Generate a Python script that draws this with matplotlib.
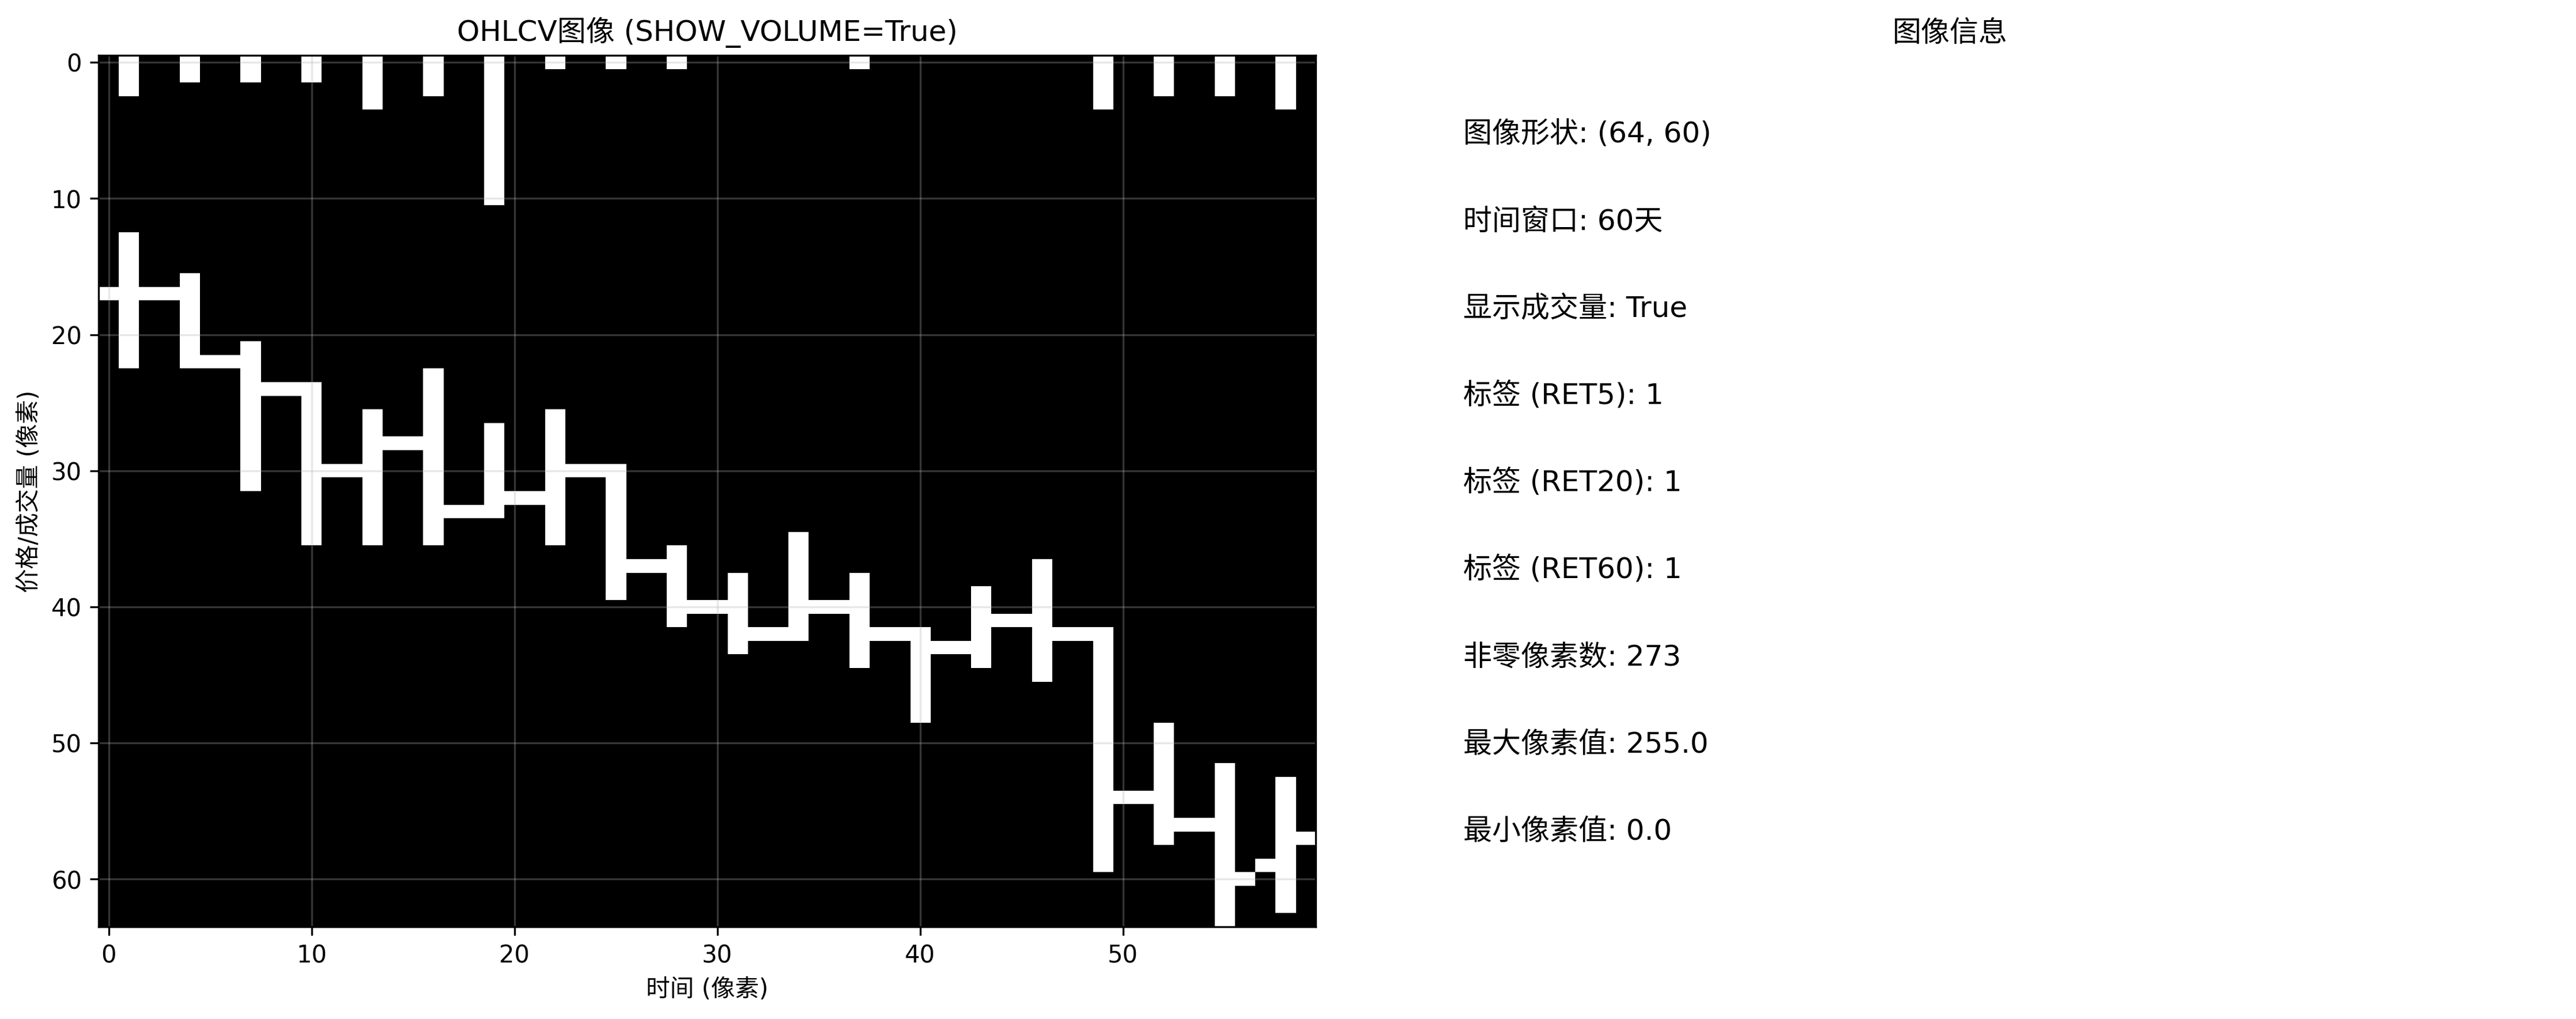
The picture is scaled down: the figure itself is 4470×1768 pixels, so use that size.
import numpy as np
import matplotlib
matplotlib.use("Agg")
import matplotlib.pyplot as plt

plt.rcParams['font.family'] = ['DejaVu Sans', 'Noto Sans CJK SC']

# ---- data (pixel rows, 64x60 image, 20 days x 3 columns) ----
img_height = 64
window_days = 60
days = list(range(20))
open_px = [17, 17, 22, 24, 30, 28, 33, 32, 30, 37, 40, 42, 40, 42, 43, 41, 42, 54, 56, 59]
high_px = [13, 16, 21, 24, 26, 23, 27, 26, 30, 36, 38, 35, 38, 42, 39, 37, 42, 49, 52, 53]
low_px = [22, 22, 31, 35, 35, 35, 33, 35, 39, 41, 43, 42, 44, 48, 44, 45, 59, 57, 63, 62]
close_px = [17, 22, 24, 30, 28, 33, 32, 30, 37, 40, 42, 40, 42, 43, 41, 42, 54, 56, 60, 57]
volume_px = [3, 2, 2, 2, 4, 3, 11, 1, 1, 1, 0, 0, 1, 0, 0, 0, 4, 3, 3, 4]
show_volume = True
labels = {"RET5": 1, "RET20": 1, "RET60": 1}

# ---- build image ----
img = np.zeros((img_height, 3 * len(days)), dtype=float)
for d in days:
    c = 3 * d
    img[open_px[d], c] = 255
    img[high_px[d]:low_px[d] + 1, c + 1] = 255
    img[close_px[d], c + 2] = 255
    if volume_px[d] > 0:
        img[0:volume_px[d], c + 1] = 255

fig, (ax1, ax2) = plt.subplots(1, 2, figsize=(15, 6))

ax1.imshow(img, cmap='gray', aspect='auto')
ax1.set_title(f'OHLCV图像 (SHOW_VOLUME={show_volume})')
ax1.set_xlabel('时间 (像素)')
ax1.set_ylabel('价格/成交量 (像素)')
ax1.grid(True, alpha=0.3)

ax2.axis('off')
ax2.set_title('图像信息')
info = [
    f'图像形状: {img.shape}',
    f'时间窗口: {window_days}天',
    f'显示成交量: {show_volume}',
    f'标签 (RET5): {labels["RET5"]}',
    f'标签 (RET20): {labels["RET20"]}',
    f'标签 (RET60): {labels["RET60"]}',
    f'非零像素数: {int(np.count_nonzero(img))}',
    f'最大像素值: {img.max()}',
    f'最小像素值: {img.min()}',
]
for i, t in enumerate(info):
    ax2.text(0.1, 0.9 - 0.1 * i, t, transform=ax2.transAxes, fontsize=12)

plt.tight_layout()
plt.savefig('out.png', dpi=300, bbox_inches='tight')
